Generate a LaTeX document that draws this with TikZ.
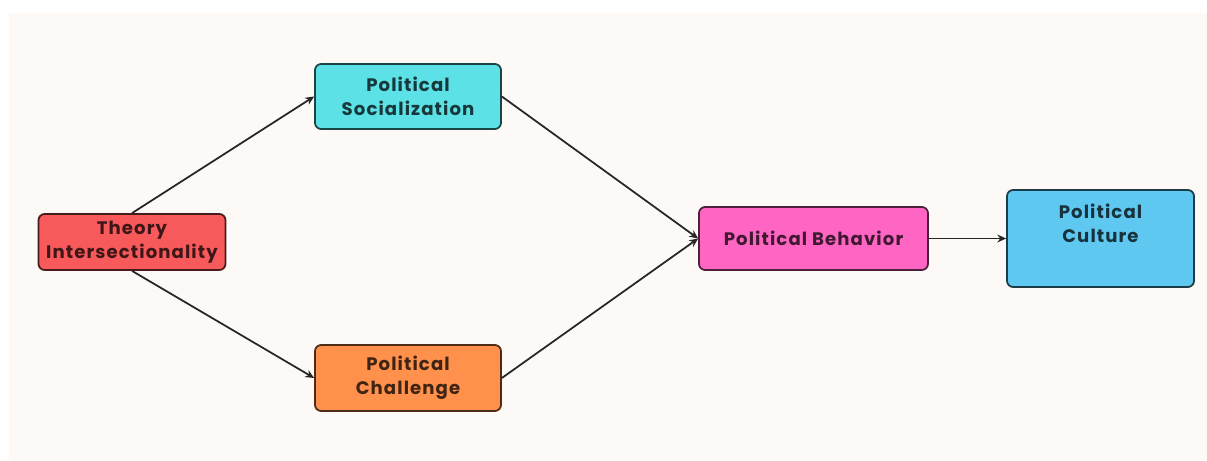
\documentclass[tikz,border=0pt]{standalone}
\usepackage{fontspec}
\setmainfont{Poppins}[LetterSpace=6]
\usetikzlibrary{arrows.meta}
\definecolor{paper}{HTML}{FDF9F6}
\definecolor{theoryred}{HTML}{F85A5B}
\definecolor{socialcyan}{HTML}{5CE1E6}
\definecolor{challengeorange}{HTML}{FF914D}
\definecolor{behaviorpink}{HTML}{FF66C4}
\definecolor{cultureblue}{HTML}{5EC8F0}
\tikzset{
	box/.style={draw=#1!30!black, fill=#1, text=#1!25!black, line width=1pt,
		rounded corners=3.5pt, align=center, font=\fontsize{10.3}{13.6}\selectfont\bfseries},
	link/.style={draw=black!85, line width=1pt, -{Stealth[length=5pt,width=4.5pt]}}
}

\begin{document}
\begin{tikzpicture}
			%%%%% START %%%%%
			
			\useasboundingbox (0, 0) rectangle (24.14, 9.2);
			\fill[paper] (0.18, 0) rectangle (24.14, 8.94);
			
			\node[box=theoryred, minimum width=3.74cm, minimum height=1.12cm] (theory) at (2.64, 4.36) {Theory\\Intersectionality};
			\node[box=socialcyan, minimum width=3.72cm, minimum height=1.3cm] (social) at (8.16, 7.27) {Political\\Socialization};
			\node[box=challengeorange, minimum width=3.72cm, minimum height=1.32cm] (challenge) at (8.16, 1.64) {Political\\Challenge};
			
			\node[box=behaviorpink, minimum width=4.58cm, minimum height=1.26cm] (behavior) at (16.27, 4.43) {Political Behavior};
			\node[box=cultureblue, minimum width=3.74cm, minimum height=1.94cm] (culture) at (22.01, 4.43) {Political\\Culture\\\strut};
			
			\draw[link] (theory.north) -- (social.west);
			\draw[link] (theory.south) -- (challenge.west);
			\draw[link] (social.east) -- (behavior.west);
			\draw[link] (challenge.east) -- (behavior.west);
			\draw[link] (behavior.east) -- (culture.west);
			
			%%%%% END %%%%%
\end{tikzpicture}
\end{document}
